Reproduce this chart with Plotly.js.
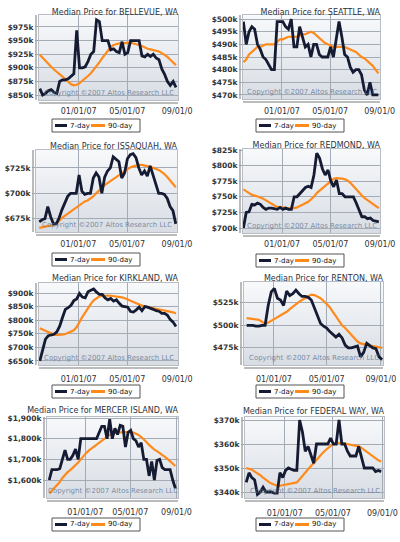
<!DOCTYPE html>
<html><head><meta charset="utf-8">
<script src="https://cdn.plot.ly/plotly-3.0.1.min.js"></script>
<style>
html,body{margin:0;padding:0;background:#fff;width:400px;height:542px;overflow:hidden}
.p{position:absolute}
</style></head><body>
<div id="c0" class="p" style="left:0;top:0;width:200px;height:135px"></div>
<div id="c1" class="p" style="left:200px;top:0;width:200px;height:135px"></div>
<div id="c2" class="p" style="left:0;top:135px;width:200px;height:135px"></div>
<div id="c3" class="p" style="left:200px;top:135px;width:200px;height:135px"></div>
<div id="c4" class="p" style="left:0;top:270px;width:200px;height:135px"></div>
<div id="c5" class="p" style="left:200px;top:270px;width:200px;height:135px"></div>
<div id="c6" class="p" style="left:0;top:405px;width:200px;height:137px"></div>
<div id="c7" class="p" style="left:200px;top:405px;width:200px;height:137px"></div>
<script>
// ---------- DATA ----------
const dates = ['2006-09-27','2006-10-04','2006-10-11','2006-10-18','2006-10-25','2006-11-01','2006-11-08','2006-11-15','2006-11-22','2006-11-29','2006-12-06','2006-12-13','2006-12-20','2006-12-27','2007-01-03','2007-01-10','2007-01-17','2007-01-24','2007-01-31','2007-02-07','2007-02-14','2007-02-21','2007-02-28','2007-03-07','2007-03-14','2007-03-21','2007-03-28','2007-04-04','2007-04-11','2007-04-18','2007-04-25','2007-05-02','2007-05-09','2007-05-16','2007-05-23','2007-05-30','2007-06-06','2007-06-13','2007-06-20','2007-06-27','2007-07-04','2007-07-11','2007-07-18','2007-07-25','2007-08-01','2007-08-08','2007-08-15','2007-08-22','2007-08-29'];
const rentonDates = ['2006-10-31','2006-11-07','2006-11-14','2006-11-21','2006-11-28','2006-12-05','2006-12-12','2006-12-19','2006-12-26','2007-01-02','2007-01-09','2007-01-16','2007-01-23','2007-01-30','2007-02-06','2007-02-13','2007-02-20','2007-02-27','2007-03-06','2007-03-13','2007-03-20','2007-03-27','2007-04-03','2007-04-10','2007-04-17','2007-04-24','2007-05-01','2007-05-08','2007-05-15','2007-05-22','2007-05-29','2007-06-05','2007-06-12','2007-06-19','2007-06-26','2007-07-03','2007-07-10','2007-07-17','2007-07-24','2007-07-31','2007-08-07','2007-08-14','2007-08-21','2007-08-28','2007-09-04'];

const tickDates = ['2007-01-01','2007-05-01','2007-09-01'];
const tickLabels = ['01/01/07','05/01/07','09/01/0'];
const seriesNames = ['7-day','90-day'];
const cities = ['BELLEVUE','SEATTLE','ISSAQUAH','REDMOND','KIRKLAND','RENTON','MERCER ISLAND','FEDERAL WAY'];

// median price, thousands of dollars
const bellevue7  = [862,850,853,858,860,855,853,875,878,878,880,884,889,969,900,900,902,912,925,930,988,985,950,950,950,933,935,930,928,948,925,928,950,950,950,950,922,920,925,921,925,918,915,898,888,875,868,875,864];
const bellevue90 = [924,918,912,907,902,897,893,889,884,879,874,870,868,869,872,876,880,885,890,896,903,910,918,925,932,938,942,944,945,945,946,946,946,945,944,942,940,937,935,934,933,932,930,927,924,920,915,910,905];
const seattle7  = [499,490,495,497,496,490,488,485,484,482,480,480,499,499,499,497,496,500,489,489,497,493,489,490,485,490,490,486,485,485,485,489,485,492,499,493,486,485,481,479,480,480,478,472,470,475,470,470,470];
const seattle90 = [483,484,486,487,488,489,489,489.5,490,490,490,490,491,492,492,492.5,493,493,493,493,493.5,494,494,494.5,495,494.5,493.5,492.5,491.5,490.5,490,489.5,489,489,489,489,489,488.5,488,487.5,487,486,485,484.5,483.5,482.5,481.5,480,478.5];
const issaquah7  = [672,674,675,687,677,670,670,676,684,690,697,700,700,700,718,702,699,700,700,715,720,716,700,716,722,725,736,733,731,715,720,734,738,739,735,725,718,722,717,727,718,708,700,700,699,695,687,683,670];
const issaquah90 = [666,666.5,667,667.5,668,669,671,673,676,678,680,682,684,686,688,690,692,693,695,697,700,703,706,708,710,712,714,716,718,720,722,724,725.5,726.5,727.5,728,728,727.5,727,726,725,724,723,721,719,716,713,710,706];
const redmond7  = [700,725,726,738,737,740,738,733,730,732,732,731,730,733,730,732,730,730,750,750,755,760,765,767,765,785,820,812,795,785,793,775,766,777,755,755,750,750,750,750,740,728,718,718,715,716,712,711,710];
const redmond90 = [762,759,756,753,752,751,749,747,744,741,739,736,734,733,733,732.5,732,731.5,732,733,735,737,740,742,746,750,756,760,764,768,772,776,779,780,780,779,778,776,772,767,761,756,752,748,745,742,739,736,732];
const kirkland7  = [650,695,730,743,745,748,757,778,810,840,846,855,872,878,898,885,882,905,910,915,903,895,895,882,875,880,870,875,862,852,850,848,832,830,838,848,835,850,848,845,840,835,833,825,825,818,802,793,777];
const kirkland90 = [770,765,759,754,750,747,746,746,747,749,753,757,763,775,795,812,828,845,860,873,882,888,890,891,891,890,889,888,886,884,881,877,872,867,862,857,853,850,848,846,845,843,841,839,837,835,832,829,825];
const renton7  = [500,500,500,499,499,500,500,522,537,541,530,528,522,538,533,535,539,535,532,532,531,528,520,512,502,499,497,493,490,487,490,486,478,475,475,476,477,465,470,480,477,475,474,465,462];
const renton90 = [508,507.5,507,506.5,506,504,501.5,503,505,507,509,511,513,515,518,521,524,526,528,530,532,534,533.5,532,530,527,524,520,515,510,505,500,497,493,489,485,482,480,479,478,477.5,477,476.5,476,475];
const mercer7  = [1600,1650,1650,1650,1655,1700,1745,1700,1700,1720,1750,1700,1800,1800,1800,1800,1800,1800,1800,1830,1860,1860,1800,1895,1800,1850,1820,1865,1860,1760,1830,1840,1800,1790,1760,1780,1700,1700,1620,1690,1600,1695,1700,1660,1650,1650,1650,1600,1560];
const mercer90 = [1535,1548,1562,1575,1590,1610,1625,1638,1648,1660,1670,1685,1700,1716,1730,1742,1752,1762,1770,1780,1792,1802,1810,1818,1824,1828,1830,1831,1832,1833,1835,1833,1830,1825,1818,1808,1798,1784,1770,1757,1747,1740,1732,1722,1712,1702,1692,1680,1668];
const fedway7  = [344,348,346,345,339,340,342,340,340,340,339.5,339.5,348,346,349,350,349.5,349,349,370,365,357,359,355,352,360,360,360,360,360,362.5,360,360,370,360,360,357,355,355,355,359,354,350,350,350,350,348.5,349,348.5];
const fedway90 = [350,349.7,349.3,348.5,347.8,347,346,345,344.2,343.5,343,342.6,342.6,342.8,343,343.1,343.3,343.6,344,345.3,346.8,348.2,349.5,350.8,352,353.5,354.8,356,357.2,358.3,359.2,359.9,360.3,360.5,360.4,360.2,360,359.8,359.6,359.3,359,358.4,357.5,356.7,355.8,355,354,353.2,352.7];

const bellevueTicks = [850,875,900,925,950,975];
const seattleTicks  = [470,475,480,485,490,495,500];
const issaquahTicks = [675,700,725];
const redmondTicks  = [700,725,750,775,800,825];
const kirklandTicks = [650,700,750,800,850,900];
const rentonTicks   = [475,500,525];
const mercerTicks   = [1600,1700,1800,1900];
const fedwayTicks   = [340,350,360,370];

// ---------- LAYOUT / STYLE ----------
const FONT = 'DejaVu Sans';
const C7 = '#141b33', C90 = '#ff8a1c';
const bgSvg = 'data:image/svg+xml;utf8,' + encodeURIComponent('<svg xmlns="http://www.w3.org/2000/svg" width="10" height="100" preserveAspectRatio="none"><defs><linearGradient id="g" x1="0" y1="0" x2="0" y2="1"><stop offset="0" stop-color="#f8f9fb"/><stop offset="1" stop-color="#d8dde4"/></linearGradient></defs><rect width="10" height="100" fill="url(#g)"/></svg>');

const panels = [
  {id:'c0', city:cities[0], x:dates, d7:bellevue7, d90:bellevue90, ticks:bellevueTicks, W:200,H:135, m:[39,22,15,35], tt:12, xr:['2006-09-25','2007-09-03'], yr:[841,997], xtl:3, leg:[52,119]},
  {id:'c1', city:cities[1], x:dates, d7:seattle7, d90:seattle90, ticks:seattleTicks, W:200,H:135, m:[43,20,15,36], tt:12, xr:['2006-09-26','2007-09-02'], yr:[468.4,501.6], xtl:4, leg:[56,119]},
  {id:'c2', city:cities[2], x:dates, d7:issaquah7, d90:issaquah90, ticks:issaquahTicks, W:200,H:135, m:[36,23,15,38], tt:11, xr:['2006-09-19','2007-09-01'], yr:[662,742.6], xtl:4, leg:[52,118]},
  {id:'c3', city:cities[3], x:dates, d7:redmond7, d90:redmond90, ticks:redmondTicks, W:200,H:135, m:[43,20,14,37], tt:10, xr:['2006-09-26','2007-09-01'], yr:[692,826.6], xtl:3, leg:[56,119]},
  {id:'c4', city:cities[4], x:dates, d7:kirkland7, d90:kirkland90, ticks:kirklandTicks, W:200,H:135, m:[39,22,13,40], tt:8, xr:['2006-09-25','2007-09-03'], yr:[635,937], xtl:6, leg:[52,115]},
  {id:'c5', city:cities[5], x:rentonDates, d7:renton7, d90:renton90, ticks:rentonTicks, W:200,H:135, m:[44,17,12,40], tt:8, xr:['2006-10-25','2007-09-06'], yr:[456,548], xtl:6, leg:[56,115]},
  {id:'c6', city:cities[6], x:dates, d7:mercer7, d90:mercer90, ticks:mercerTicks, W:200,H:137, m:[47,22,12,44], tt:5, xr:['2006-09-21','2007-09-05'], yr:[1513,1905], xtl:6, leg:[52,113]},
  {id:'c7', city:cities[7], x:dates, d7:fedway7, d90:fedway90, ticks:fedwayTicks, W:200,H:137, m:[45,16,12,44], tt:6, xr:['2006-09-24','2007-09-05'], yr:[337.5,371.25], xtl:7, leg:[56,113]}
];

function draw(p){
  const [l,r,t,b] = p.m;
  const pw = p.W - l - r, ph = p.H - t - b;
  const px = x => (x - l) / pw;
  const py = y => 1 - (y - t) / ph;
  const bx = p.leg[0], by = p.leg[1];
  const yText = p.ticks.map(v => '$' + v.toLocaleString('en-US') + 'k');

  const traces = [
    {x:p.x, y:p.d90, name:seriesNames[1], type:'scatter', mode:'lines', line:{color:C90, width:2.2}},
    {x:p.x, y:p.d7,  name:seriesNames[0], type:'scatter', mode:'lines', line:{color:C7, width:2.8}}
  ];
  const layout = {
    width:p.W, height:p.H, margin:{l:l, r:r, t:t, b:b, pad:0},
    paper_bgcolor:'#ffffff', plot_bgcolor:'rgba(0,0,0,0)', showlegend:false,
    font:{family:FONT, color:'#333'},
    title:{text:'Median Price for ' + p.city + ', WA', font:{family:FONT, size:8, color:'#2a3342'},
           x:1, xref:'paper', xanchor:'right', y:1-p.tt/p.H, yref:'container', yanchor:'middle'},
    xaxis:{type:'date', range:p.xr, tickvals:tickDates, ticktext:tickLabels, showgrid:true, gridcolor:'#a3abb5', gridwidth:1,
           ticks:'outside', ticklen:p.xtl, tickcolor:'rgba(0,0,0,0)', tickfont:{family:FONT, size:8, color:'#333'},
           showline:true, mirror:true, linecolor:'#b9bec6', linewidth:1, zeroline:false, fixedrange:true},
    yaxis:{range:p.yr, tickvals:p.ticks, ticktext:yText,
           showgrid:true, gridcolor:'#a3abb5', gridwidth:1, ticks:'outside', ticklen:3, tickcolor:'#9a9a9a',
           tickfont:{family:FONT, size:7.5, color:'#333', weight:'bold'},
           showline:true, mirror:true, linecolor:'#b9bec6', linewidth:1, zeroline:false, fixedrange:true},
    images:[{source:bgSvg, xref:'paper', yref:'paper', x:0, y:1, sizex:1, sizey:1, sizing:'stretch', layer:'below', xanchor:'left', yanchor:'top'}],
    shapes:[
      {type:'line', xref:'paper', yref:'paper', x0:px(l-3), x1:px(l-3), y0:0, y1:1, line:{color:'#a5a5a5', width:1.5}},
      {type:'line', xref:'paper', yref:'paper', x0:0, x1:1, y0:py(p.H-b+3), y1:py(p.H-b+3), line:{color:'#a5a5a5', width:1.5}},
      {type:'rect', xref:'paper', yref:'paper', x0:px(bx), x1:px(bx+88), y0:py(by+13), y1:py(by), line:{color:'#555', width:1}, fillcolor:'#ffffff'},
      {type:'line', xref:'paper', yref:'paper', x0:px(bx+3), x1:px(bx+15), y0:py(by+6.5), y1:py(by+6.5), line:{color:C7, width:3}},
      {type:'line', xref:'paper', yref:'paper', x0:px(bx+39), x1:px(bx+53), y0:py(by+6.5), y1:py(by+6.5), line:{color:C90, width:3}}
    ],
    annotations:[
      {text:'Copyright ©2007 Altos Research LLC', xref:'paper', yref:'paper', x:0.5, y:py(p.H-b-1), xanchor:'center', yanchor:'bottom',
       showarrow:false, font:{family:FONT, size:7, color:'rgba(95,115,145,0.8)'}},
      {text:seriesNames[0], xref:'paper', yref:'paper', x:px(bx+16), y:py(by+6.5), xanchor:'left', yanchor:'middle', showarrow:false,
       font:{family:FONT, size:7, color:'#111'}},
      {text:seriesNames[1], xref:'paper', yref:'paper', x:px(bx+54), y:py(by+6.5), xanchor:'left', yanchor:'middle', showarrow:false,
       font:{family:FONT, size:7, color:'#111'}}
    ]
  };
  Plotly.newPlot(p.id, traces, layout, {staticPlot:true, displayModeBar:false});
}
panels.forEach(draw);
</script>
</body></html>
